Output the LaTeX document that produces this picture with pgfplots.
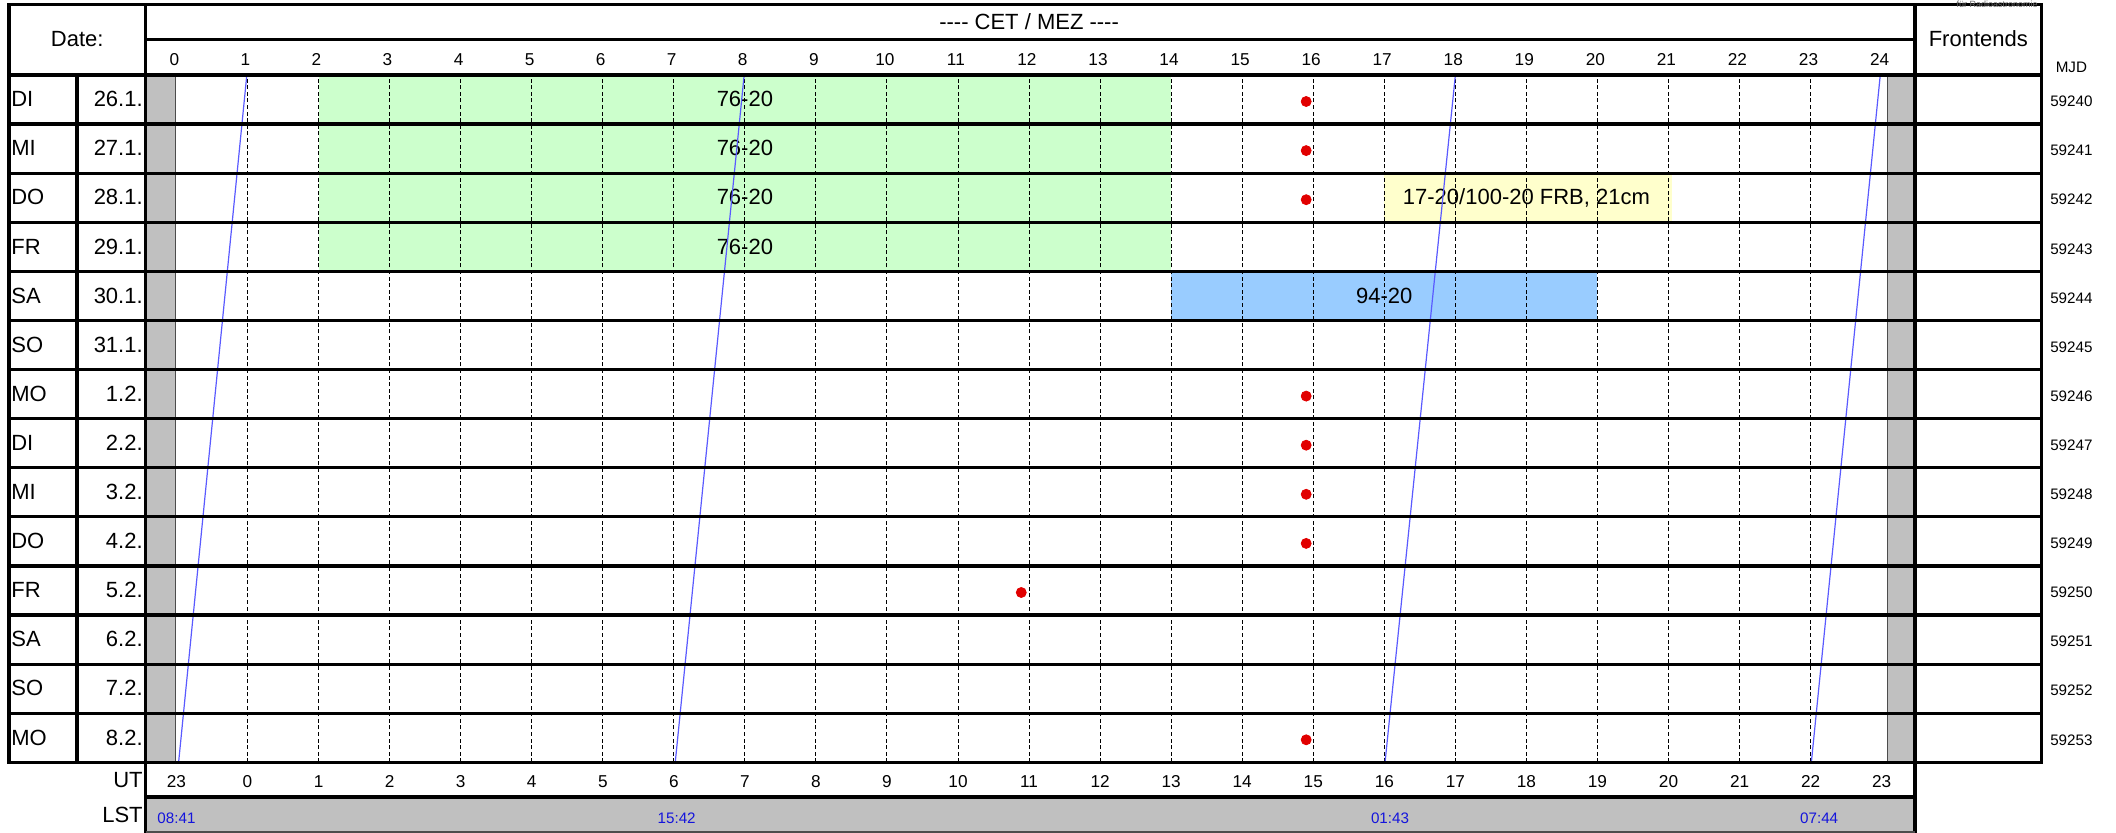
\documentclass[border=0pt]{standalone}
\usepackage{pgfplots}
\pgfplotsset{compat=1.18}
\usepackage{fontspec}
\setmainfont{Liberation Sans}
\definecolor{gcell}{HTML}{CCFFCC}
\definecolor{ycell}{HTML}{FFFFCC}
\definecolor{bcell}{HTML}{99CCFF}
\definecolor{grayc}{HTML}{C0C0C0}
\definecolor{lstline}{RGB}{90,90,255}
\definecolor{lsttext}{RGB}{20,20,220}
\definecolor{dotred}{RGB}{225,0,0}
\newcommand\mainf{\fontsize{11}{13}\selectfont}
\newcommand\hourf{\fontsize{8.6}{10}\selectfont}
\newcommand\smallf{\fontsize{7.6}{9}\selectfont}
\newcommand\rowlab[4]{%
  \node[anchor=west] at (axis cs:-2.33,#1) {#2};
  \node[anchor=east] at (axis cs:-0.47,#1) {#3};
  \node[font=\smallf] at (axis cs:26.67,#1) {#4};}
\newcommand\ut[2]{\node[font=\hourf] at (axis cs:#1,-0.36) {#2};}
\begin{document}
\begin{tikzpicture}[font=\mainf, every node/.style={inner sep=0pt, text height=0.72em, text depth=0pt}]
\useasboundingbox (0,0) rectangle (1058pt,416.5pt);
\begin{axis}[
  at={(72.75pt,35.3pt)}, anchor=south west,
  x=35.525pt, y=24.55pt,
  xmin=-0.436, xmax=24.47, ymin=0, ymax=14,
  hide axis, clip=false,
]
% gray columns and LST band
\addplot[fill=grayc, draw=none] coordinates {(-0.436,0) (-0.02,0) (-0.02,14) (-0.436,14)} --cycle;
\addplot[fill=grayc, draw=none] coordinates {(24.08,0) (24.47,0) (24.47,14) (24.08,14)} --cycle;
\addplot[fill=grayc, draw=none] coordinates {(-0.436,-0.705) (24.47,-0.705) (24.47,-1.44) (-0.436,-1.44)} --cycle;
\draw[black!70, line width=0.5pt] (axis cs:-0.02,0) -- (axis cs:-0.02,14);
\draw[black!70, line width=0.5pt] (axis cs:24.08,0) -- (axis cs:24.08,14);
% observing blocks
\addplot[fill=gcell, draw=none] coordinates {(2,10) (14,10) (14,14) (2,14)} --cycle;
\addplot[fill=ycell, draw=none] coordinates {(17,11) (21.05,11) (21.05,12) (17,12)} --cycle;
\addplot[fill=bcell, draw=none] coordinates {(14,9) (20,9) (20,10) (14,10)} --cycle;
\node at (axis cs:8,13.5) {76-20};
\node at (axis cs:8,12.5) {76-20};
\node at (axis cs:8,11.5) {76-20};
\node at (axis cs:8,10.5) {76-20};
\node at (axis cs:19,11.5) {17-20/100-20 FRB, 21cm};
\node at (axis cs:17,9.5) {94-20};
% dashed hour lines
\pgfplotsinvokeforeach{1,...,23}{\draw[black, line width=0.5pt, dash pattern=on 2pt off 1.3pt] (axis cs:#1,0) -- (axis cs:#1,14);}
% LST lines
\addplot[lstline, line width=0.6pt] coordinates {(0.99,14) (0.03,0)};
\addplot[lstline, line width=0.6pt] coordinates {(7.99,14) (7.02,0)};
\addplot[lstline, line width=0.6pt] coordinates {(18.0,14) (17.01,0)};
\addplot[lstline, line width=0.6pt] coordinates {(23.98,14) (23.01,0)};
% red dots
\addplot[only marks, mark=*, mark size=2.5pt, mark options={draw=dotred, fill=dotred}] coordinates {
(15.9,13.46) (15.9,12.46) (15.9,11.46) (15.9,7.46) (15.9,6.46) (15.9,5.46) (15.9,4.46) (11.89,3.46) (15.9,0.46)};
% frame lines
\begin{scope}[line width=1.6pt, line cap=rect]
\pgfplotsinvokeforeach{0,...,14}{\draw (axis cs:-2.357,#1) -- (axis cs:26.25,#1);}
\draw (axis cs:-2.357,15.436) -- (axis cs:26.25,15.436);
\draw (axis cs:-0.436,14.73) -- (axis cs:24.47,14.73);
\draw (axis cs:-0.436,-0.705) -- (axis cs:24.47,-0.705);
\draw (axis cs:-2.357,0) -- (axis cs:-2.357,15.436);
\draw (axis cs:-1.40,0) -- (axis cs:-1.40,14);
\draw (axis cs:-0.436,-1.41) -- (axis cs:-0.436,15.436);
\draw (axis cs:24.47,-1.41) -- (axis cs:24.47,15.436);
\draw (axis cs:26.25,0) -- (axis cs:26.25,15.436);
\end{scope}
\draw[black!70, line width=1pt] (axis cs:-0.436,-1.41) -- (axis cs:24.47,-1.41);
% header texts
\node at (axis cs:12,15.08) {-{}-{}-{}- CET / MEZ -{}-{}-{}-};
\node at (axis cs:-1.397,14.72) {Date:};
\node at (axis cs:25.36,14.72) {Frontends};
\node[font=\smallf] at (axis cs:26.67,14.2) {MJD};
\node[anchor=east, font=\fontsize{4.5}{5}\selectfont, text=black!60] at (axis cs:26.2,15.53) {für Radioastronomie};
\pgfplotsinvokeforeach{0,...,24}{\node[font=\hourf] at (axis cs:#1-0.03,14.33) {#1};}
% rows
\rowlab{13.5}{DI}{26.1.}{59240}
\rowlab{12.5}{MI}{27.1.}{59241}
\rowlab{11.5}{DO}{28.1.}{59242}
\rowlab{10.5}{FR}{29.1.}{59243}
\rowlab{9.5}{SA}{30.1.}{59244}
\rowlab{8.5}{SO}{31.1.}{59245}
\rowlab{7.5}{MO}{1.2.}{59246}
\rowlab{6.5}{DI}{2.2.}{59247}
\rowlab{5.5}{MI}{3.2.}{59248}
\rowlab{4.5}{DO}{4.2.}{59249}
\rowlab{3.5}{FR}{5.2.}{59250}
\rowlab{2.5}{SA}{6.2.}{59251}
\rowlab{1.5}{SO}{7.2.}{59252}
\rowlab{0.5}{MO}{8.2.}{59253}
% UT row
\node[anchor=east] at (axis cs:-0.47,-0.36) {UT};
\ut{0}{23}\ut{1}{0}\ut{2}{1}\ut{3}{2}\ut{4}{3}\ut{5}{4}\ut{6}{5}\ut{7}{6}\ut{8}{7}\ut{9}{8}
\ut{10}{9}\ut{11}{10}\ut{12}{11}\ut{13}{12}\ut{14}{13}\ut{15}{14}\ut{16}{15}\ut{17}{16}
\ut{18}{17}\ut{19}{18}\ut{20}{19}\ut{21}{20}\ut{22}{21}\ut{23}{22}\ut{24}{23}
% LST row
\node[anchor=east] at (axis cs:-0.47,-1.08) {LST};
\node[font=\smallf, text=lsttext] at (axis cs:0.0,-1.09) {08:41};
\node[font=\smallf, text=lsttext] at (axis cs:7.04,-1.09) {15:42};
\node[font=\smallf, text=lsttext] at (axis cs:17.08,-1.09) {01:43};
\node[font=\smallf, text=lsttext] at (axis cs:23.12,-1.09) {07:44};
\end{axis}
\end{tikzpicture}
\end{document}
